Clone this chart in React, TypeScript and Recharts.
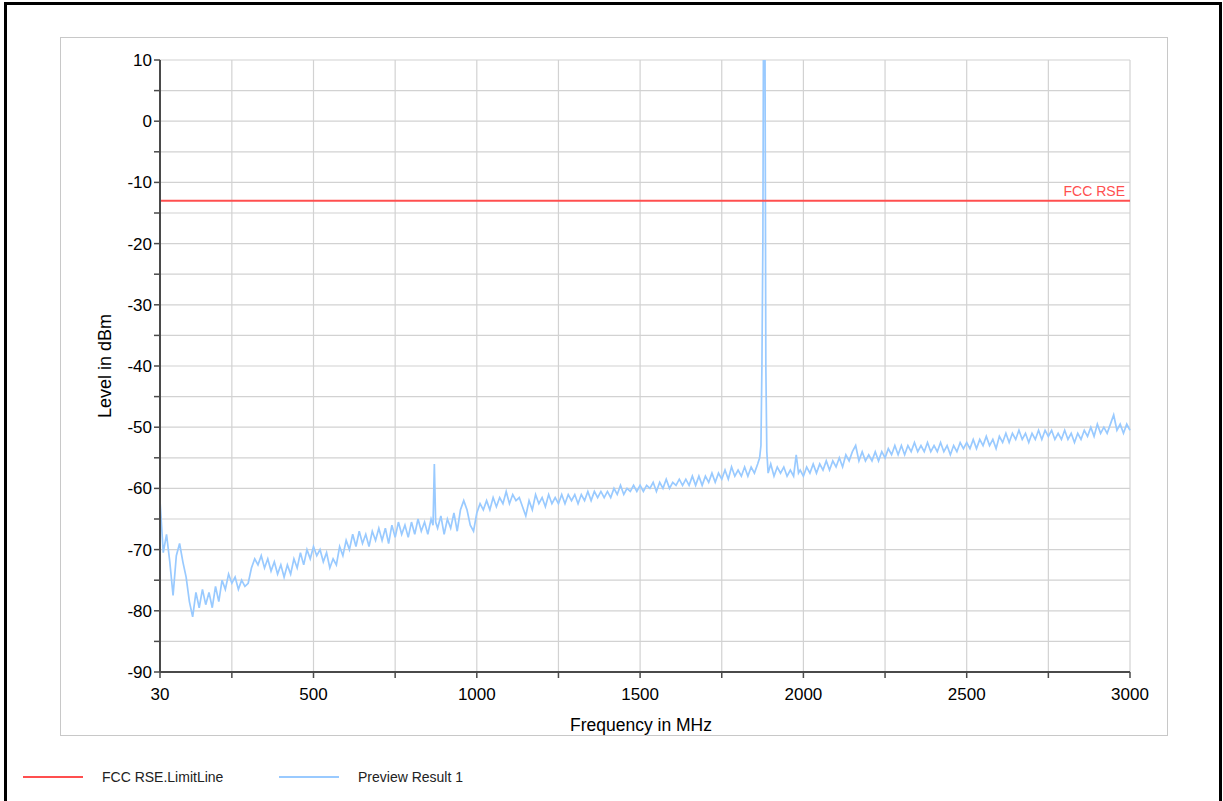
import { LineChart, Line, XAxis, YAxis, CartesianGrid, ReferenceLine } from 'recharts'

// sweep axis (MHz)
const frequencyTicks = [30, 250, 500, 750, 1000, 1250, 1500, 1750, 2000, 2250, 2500, 2750, 3000]
const frequencyLabels = [30, 500, 1000, 1500, 2000, 2500, 3000]

// level axis (dBm)
const levelTicks = [-90, -85, -80, -75, -70, -65, -60, -55, -50, -45, -40, -35, -30, -25, -20, -15, -10, -5, 0, 5, 10]
const levelLabels = [-90, -80, -70, -60, -50, -40, -30, -20, -10, 0, 10]

const limitName = 'FCC RSE'
const limitLevel = -13

// Preview Result 1: [frequency MHz, level dBm]
const previewResult: [number, number][] = [
  [30, -62], [40, -70.5], [50, -67.5], [60, -72], [70, -77.5], [80, -71], [90, -69], [100, -72], [110, -74.5], [120, -78.5],
  [130, -81], [140, -77], [150, -79.5], [160, -76.5], [170, -79], [180, -77], [190, -79.5], [200, -76], [210, -78.5], [220, -75],
  [230, -76.5], [240, -74], [250, -75.5], [260, -74.5], [270, -76.5], [280, -75], [290, -76], [300, -75.5], [310, -73], [320, -71.5],
  [330, -72.5], [340, -71], [350, -73], [360, -71.5], [370, -73.5], [380, -72], [390, -74], [400, -72.5], [410, -74.5], [420, -72.5],
  [430, -74], [440, -71.5], [450, -73], [460, -70.5], [470, -72.5], [480, -70], [490, -71.5], [500, -69.5], [510, -71], [520, -70],
  [530, -72], [540, -70.5], [550, -73], [560, -71.5], [570, -72.5], [580, -69.5], [590, -71], [600, -68.5], [610, -70], [620, -67.5],
  [630, -69.5], [640, -67], [650, -69], [660, -67.5], [670, -69.5], [680, -67], [690, -68.5], [700, -66.5], [710, -68.5], [720, -66.5],
  [730, -69], [740, -66], [750, -68], [760, -65.5], [770, -67.5], [780, -66], [790, -68], [800, -65.5], [810, -67.5], [820, -65],
  [830, -67], [840, -65.5], [850, -67.5], [860, -65], [866, -66], [870, -56], [874, -65.5], [880, -66.5], [890, -64.5], [900, -67.5],
  [910, -65], [920, -66.5], [930, -64], [940, -67], [950, -63.5], [960, -62], [970, -63.5], [980, -66], [990, -67], [1000, -64],
  [1010, -62.5], [1020, -63.5], [1030, -62], [1040, -63.5], [1050, -61.5], [1060, -63], [1070, -61.5], [1080, -62.5], [1090, -60.5], [1100, -62.5],
  [1110, -61], [1120, -62], [1130, -61.5], [1140, -63], [1150, -64.5], [1160, -62], [1170, -63.5], [1180, -61], [1190, -62.5], [1200, -61.5],
  [1210, -63], [1220, -61], [1230, -62.5], [1240, -61.5], [1250, -62.5], [1260, -61], [1270, -62.5], [1280, -61], [1290, -62], [1300, -61],
  [1310, -62.5], [1320, -61], [1330, -62], [1340, -60.5], [1350, -62], [1360, -60.5], [1370, -61.5], [1380, -60.5], [1390, -61.5], [1400, -60.5],
  [1410, -61.5], [1420, -60], [1430, -61], [1440, -59.5], [1450, -61], [1460, -60], [1470, -60.5], [1480, -59.5], [1490, -60.5], [1500, -59.5],
  [1510, -60.5], [1520, -59.5], [1530, -60], [1540, -59], [1550, -60.5], [1560, -59], [1570, -60], [1580, -58.5], [1590, -60], [1600, -59],
  [1610, -59.5], [1620, -58.5], [1630, -59.5], [1640, -58.5], [1650, -59.5], [1660, -58], [1670, -59.5], [1680, -58], [1690, -59.5], [1700, -58],
  [1710, -59], [1720, -57.5], [1730, -59], [1740, -57.5], [1750, -58.5], [1760, -57], [1770, -58.5], [1780, -56.5], [1790, -58], [1800, -57],
  [1810, -58], [1820, -56.5], [1830, -58], [1840, -56.5], [1850, -57.5], [1860, -56], [1866, -55], [1870, -53], [1873, -40], [1876, -19],
  [1878, 20], [1882, 20], [1885, -40], [1888, -54], [1892, -57.5], [1900, -56], [1910, -58], [1920, -56.5], [1930, -57.5], [1940, -56.5],
  [1950, -58], [1960, -57], [1970, -58], [1978, -54.5], [1985, -57.5], [1990, -57], [2000, -58], [2010, -56.5], [2020, -57.5], [2030, -56],
  [2040, -57.5], [2050, -56], [2060, -57], [2070, -55.5], [2080, -57], [2090, -55.5], [2100, -56.5], [2110, -55], [2120, -56.5], [2130, -54.5],
  [2140, -55.5], [2150, -54], [2160, -53], [2170, -55.5], [2180, -54], [2190, -55.5], [2200, -54.5], [2210, -55.5], [2220, -54], [2230, -55.5],
  [2240, -54], [2250, -55], [2260, -53.5], [2270, -54.5], [2280, -53], [2290, -54.5], [2300, -53], [2310, -54.5], [2320, -53], [2330, -54],
  [2340, -52.5], [2350, -54], [2360, -53], [2370, -54], [2380, -52.5], [2390, -54], [2400, -53], [2410, -54], [2420, -52.5], [2430, -54],
  [2440, -53], [2450, -54.5], [2460, -53], [2470, -54], [2480, -52.5], [2490, -53.5], [2500, -52.5], [2510, -53.5], [2520, -52], [2530, -53.5],
  [2540, -52], [2550, -53], [2560, -51.5], [2570, -53], [2580, -52], [2590, -53.5], [2600, -51.5], [2610, -52.5], [2620, -51], [2630, -52.5],
  [2640, -51], [2650, -52], [2660, -50.5], [2670, -52], [2680, -51], [2690, -52.5], [2700, -51], [2710, -52], [2720, -50.5], [2730, -52],
  [2740, -50.5], [2750, -51.5], [2760, -50.5], [2770, -52], [2780, -51], [2790, -52], [2800, -50.5], [2810, -52], [2820, -51], [2830, -52.5],
  [2840, -51], [2850, -52], [2860, -50.5], [2870, -51.5], [2880, -50], [2890, -51.5], [2900, -49.5], [2910, -51], [2920, -50], [2930, -51],
  [2940, -49.5], [2950, -48], [2960, -50.5], [2970, -49.5], [2980, -51], [2990, -49.5], [3000, -50.5],
]

const chartData = previewResult.map(([freq, level]) => ({ freq, level }))

const RED = '#ff4f4f'
const BLUE = '#99caff'
const AXIS = '#4a4a4a'

function XTitle() {
  return (
    <text x={580} y={693} textAnchor="middle" fontSize={17.5} fill="#000">
      Frequency in MHz
    </text>
  )
}

function YTitle() {
  return (
    <text x={50} y={328} transform="rotate(-90 50 328)" textAnchor="middle" fontSize={18} fill="#000">
      Level in dBm
    </text>
  )
}

export default function App() {
  return (
    <div
      style={{
        position: 'absolute',
        left: 0,
        top: 0,
        width: 1223,
        height: 801,
        overflow: 'hidden',
        background: '#fff',
        fontFamily: '"Liberation Sans", Arial, sans-serif',
      }}
    >
      {/* outer page border */}
      <div
        style={{
          position: 'absolute',
          left: 4,
          top: 2,
          width: 1218,
          height: 830,
          border: '3px solid #000',
          boxSizing: 'border-box',
        }}
      />

      {/* diagram frame */}
      <div
        style={{
          position: 'absolute',
          left: 60,
          top: 37,
          width: 1108,
          height: 699,
          border: '1px solid #c8c8c8',
          boxSizing: 'border-box',
          overflow: 'hidden',
        }}
      >
        <LineChart width={1106} height={697} data={chartData} margin={{ top: 22, right: 37, bottom: 0, left: 0 }}>
          <CartesianGrid stroke="#d2d2d2" strokeWidth={1.2} />
          <XAxis
            dataKey="freq"
            type="number"
            domain={[30, 3000]}
            ticks={frequencyTicks}
            interval={0}
            height={63}
            axisLine={{ stroke: AXIS, strokeWidth: 2 }}
            tickLine={{ stroke: AXIS, strokeWidth: 1.5 }}
            tickSize={6}
            tickMargin={10}
            tick={{ fill: '#000', fontSize: 17 }}
            tickFormatter={(v: number) => (frequencyLabels.includes(v) ? String(v) : '')}
            label={<XTitle />}
          />
          <YAxis
            type="number"
            domain={[-90, 10]}
            allowDataOverflow
            ticks={levelTicks}
            interval={0}
            width={99}
            axisLine={{ stroke: AXIS, strokeWidth: 2 }}
            tickLine={{ stroke: AXIS, strokeWidth: 1.5 }}
            tickSize={6}
            tickMargin={2}
            tick={{ fill: '#000', fontSize: 17 }}
            tickFormatter={(v: number) => (levelLabels.includes(v) ? String(v) : '')}
            label={<YTitle />}
          />
          <Line
            type="linear"
            dataKey="level"
            stroke={BLUE}
            strokeWidth={1.7}
            dot={false}
            isAnimationActive={false}
          />
          <ReferenceLine
            y={limitLevel}
            stroke={RED}
            strokeWidth={2}
            label={{ value: limitName, position: 'insideBottomRight', fill: RED, fontSize: 14, offset: 5 }}
          />
        </LineChart>
      </div>

      {/* legend */}
      <div style={{ position: 'absolute', left: 23, top: 776, width: 60, height: 2, background: RED }} />
      <div style={{ position: 'absolute', left: 102, top: 769, fontSize: 14, lineHeight: '16px', color: '#222' }}>
        FCC RSE.LimitLine
      </div>
      <div style={{ position: 'absolute', left: 279, top: 776, width: 60, height: 1.5, background: BLUE }} />
      <div style={{ position: 'absolute', left: 358, top: 769, fontSize: 14, lineHeight: '16px', color: '#222' }}>
        Preview Result 1
      </div>
    </div>
  )
}
